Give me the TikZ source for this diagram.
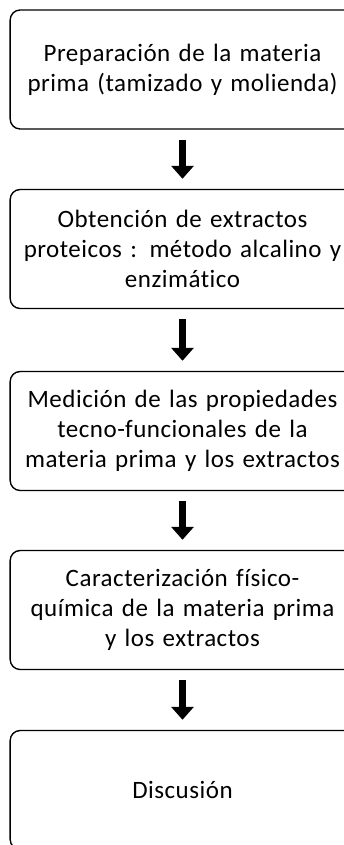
\documentclass[tikz,border=0pt]{standalone}
\usepackage{fontspec}
\setmainfont{Carlito}[RawFeature=-liga,LetterSpace=2,WordSpace=0.8]
\usetikzlibrary{arrows.meta}
\begin{document}
\begin{tikzpicture}[x=1pt,y=-1pt,
  paso/.style={draw,line width=1.4pt,rounded corners=10pt,minimum width=341pt,
    minimum height=119pt,text width=338pt,align=center,
    font=\fontsize{25}{30}\selectfont},
  flecha/.style={line width=7pt,-{Triangle[width=22pt,length=13pt]},
    shorten <=10pt,shorten >=10pt}]
\useasboundingbox (0,0) rectangle (344,845);
\node[paso] (prep) at (182.5,69.5) {Preparación de la materia\\prima (tamizado y molienda)};
\node[paso] (obt) at (182.5,249) {Obtención de extractos\\proteicos : método\ alcalino y\\enzimático};
\node[paso] (med) at (182.5,431) {Medición de las propiedades\\tecno-funcionales de la\\materia prima y los extractos};
\node[paso] (car) at (182.5,610) {Caracterización físico-\\química de la materia prima\\y los extractos};
\node[paso] (disc) at (182.5,790) {Discusión};
\foreach \a/\b in {prep/obt,obt/med,med/car,car/disc}
  \draw[flecha] (\a) -- (\b);
\end{tikzpicture}
\end{document}
